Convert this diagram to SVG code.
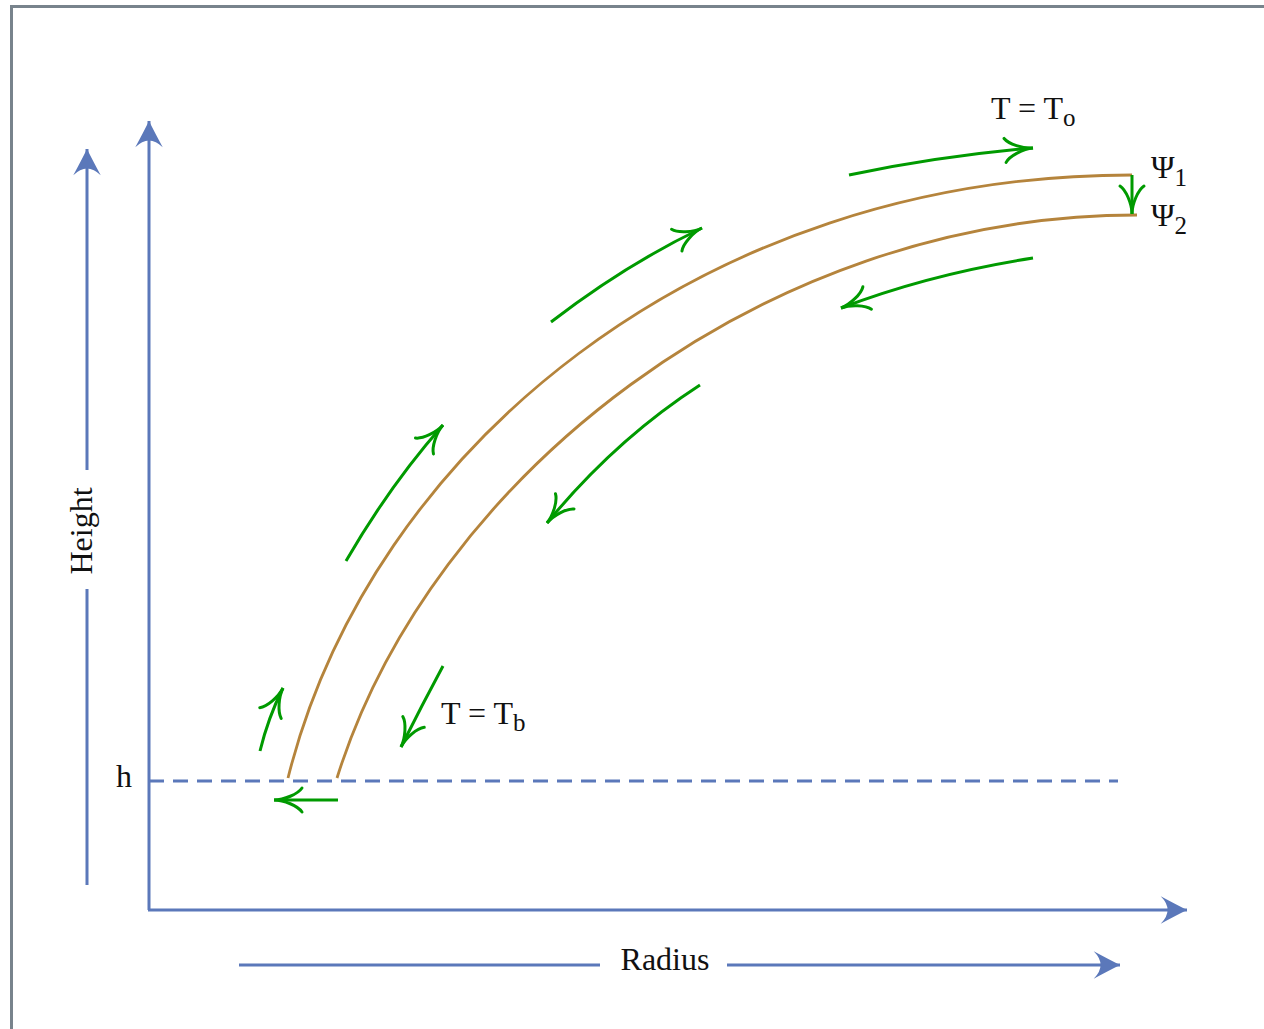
<svg xmlns="http://www.w3.org/2000/svg" width="1264" height="1029" viewBox="0 0 1264 1029">
<defs>
<style>
.ax{stroke:#5b78ba;stroke-width:3;fill:none}
.ax-a{stroke:#5b78ba;stroke-width:3;fill:none;marker-end:url(#blue)}
.flow{stroke:#009a00;stroke-width:3;fill:none;marker-end:url(#green)}
.layer{stroke:#b5843c;stroke-width:2.8;fill:none}
.t{font-family:"Liberation Serif","Times New Roman",serif;font-size:32px;fill:#111}
.s{font-size:25px}
</style>
<marker id="blue" markerUnits="userSpaceOnUse" markerWidth="40" markerHeight="40" viewBox="-30 -15 35 30" refX="0" refY="0" orient="auto" overflow="visible">
<path d="M0,0 Q-10,-5 -23,-12 Q-17,-6 -17,0 Q-17,6 -23,12 Q-10,5 0,0 Z" fill="#5b78ba"/>
</marker>
<marker id="green" markerUnits="userSpaceOnUse" markerWidth="40" markerHeight="40" viewBox="-35 -15 40 30" refX="0" refY="0" orient="auto" overflow="visible">
<path d="M-28,-12 C-24,-6 -10,0 0,0 C-10,0 -24,6 -28,12" fill="none" stroke="#009a00" stroke-width="3" stroke-linecap="round"/>
</marker>
</defs>
<rect width="1264" height="1029" fill="#fff"/>
<rect x="11.5" y="6.5" width="1300" height="1100" fill="none" stroke="#78838c" stroke-width="3"/>

<g id="axes">
<path class="ax-a" d="M149,910 L149,121"/>
<path class="ax-a" d="M148,910 L1187,910"/>
<path class="ax" d="M87,885 L87,589"/>
<path class="ax-a" d="M87,470 L87,149"/>
<path class="ax" d="M239,965 L600,965"/>
<path class="ax-a" d="M727,965 L1120,965"/>
<path d="M149,781 L1118,781" stroke="#5b78ba" stroke-width="2.8" stroke-dasharray="15 9" fill="none"/>
</g>

<g id="layers">
<path id="psi1" class="layer" d="M288,778 C370,450 700,175 1132,175"/>
<path id="psi2" class="layer" d="M337,778 C430,480 760,215 1137,215"/>
</g>

<g id="connectors">
<path class="flow" d="M849,175 Q940,156 1033,148"/>
<path class="flow" d="M551,322 Q625,265 702,228"/>
<path class="flow" d="M346,561 Q390,485 443,425"/>
<path class="flow" d="M260,751 Q268,718 283,688"/>
<path class="flow" d="M1033,258 Q930,274 841,308"/>
<path class="flow" d="M700,385 Q615,440 547,523"/>
<path class="flow" d="M443,666 Q422,705 401,747"/>
<path class="flow" d="M338,800 L274,800"/>
<path class="flow" d="M1132,175 L1132,214"/>
</g>

<g id="labels">
<text class="t" x="991" y="119">T = T<tspan class="s" dy="7">o</tspan></text>
<text class="t" x="1151" y="178">Ψ<tspan class="s" dy="8">1</tspan></text>
<text class="t" x="1151" y="226">Ψ<tspan class="s" dy="8">2</tspan></text>
<text class="t" x="441" y="724">T = T<tspan class="s" dy="7">b</tspan></text>
<text class="t" x="124" y="787" text-anchor="middle">h</text>
<text class="t" x="665" y="970" text-anchor="middle">Radius</text>
<text class="t" transform="translate(92,531) rotate(-90)" text-anchor="middle">Height</text>
</g>
</svg>
